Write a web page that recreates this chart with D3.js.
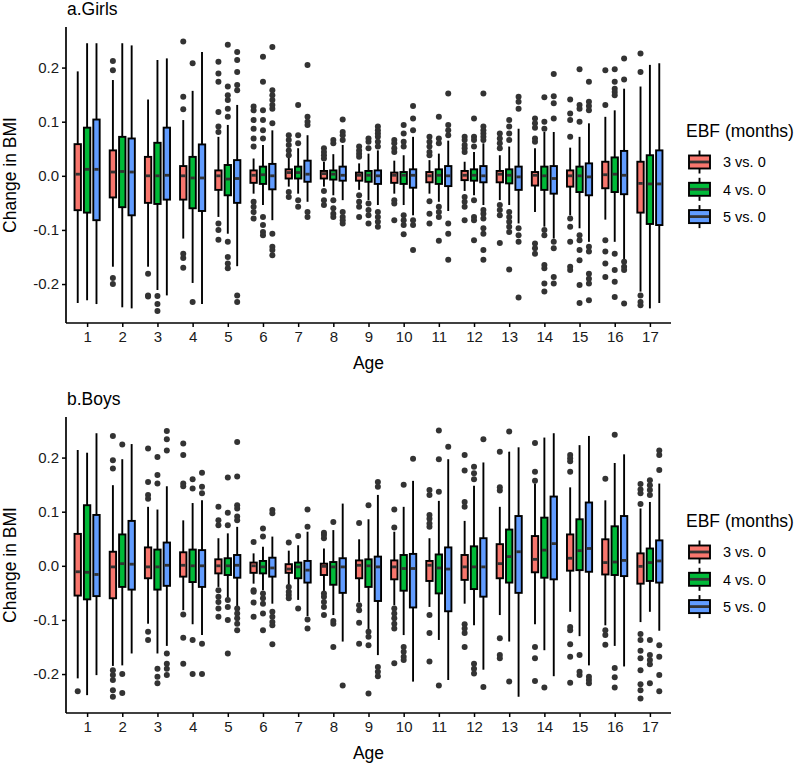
<!DOCTYPE html>
<html>
<head>
<meta charset="utf-8">
<script src="https://cdn.jsdelivr.net/npm/d3@7"></script>
<style>
  body { margin: 0; background: #fff; }
  svg { display: block; font-family: "Liberation Sans", Arial, sans-serif; }
</style>
</head>
<body>
<svg id="chart" width="800" height="764"></svg>
<script>
// ---------- data ----------
const ages = [1,2,3,4,5,6,7,8,9,10,11,12,13,14,15,16,17];
const groups = ["3 vs. 0", "4 vs. 0", "5 vs. 0"];
const groupColors = ["#F8766D", "#00BA38", "#619CFF"];
const yTicks = [-0.2, -0.1, 0.0, 0.1, 0.2];
const yTickLabels = ["-0.2", "-0.1", "0.0", "0.1", "0.2"];
const panelTitles = ["a.Girls", "b.Boys"];

// box stats per age: [lower whisker, q1, median, q3, upper whisker]
const girls3 = [
  [-0.235,-0.0635,0.003,0.0585,0.193],[-0.168,-0.040,0.007,0.047,0.177],[-0.168,-0.050,0.0,0.035,0.141],
  [-0.116,-0.044,0.0,0.018,0.103],[-0.076,-0.026,0.0,0.010,0.072],[-0.033,-0.013,0.001,0.010,0.032],
  [-0.020,-0.005,0.006,0.012,0.034],[-0.020,-0.005,0.004,0.009,0.026],[-0.026,-0.009,0.001,0.006,0.023],
  [-0.033,-0.013,0.001,0.006,0.028],[-0.033,-0.012,0.0,0.007,0.029],[-0.028,-0.008,0.001,0.009,0.026],
  [-0.045,-0.012,0.003,0.009,0.038],[-0.067,-0.018,0.001,0.007,0.051],[-0.073,-0.020,0.0,0.010,0.052],
  [-0.081,-0.023,0.002,0.026,0.109],[-0.214,-0.068,-0.014,0.026,0.165]
];
const girls4 = [
  [-0.230,-0.068,0.012,0.089,0.245],[-0.243,-0.058,0.008,0.072,0.245],[-0.211,-0.052,0.0,0.061,0.214],
  [-0.198,-0.060,-0.004,0.035,0.157],[-0.107,-0.036,-0.006,0.020,0.094],[-0.054,-0.015,0.002,0.017,0.057],
  [-0.033,-0.005,0.006,0.017,0.051],[-0.036,-0.007,0.003,0.010,0.040],[-0.045,-0.011,0.001,0.009,0.041],
  [-0.054,-0.015,0.001,0.007,0.038],[-0.048,-0.015,0.001,0.012,0.041],[-0.036,-0.009,0.001,0.012,0.044],
  [-0.054,-0.014,0.001,0.012,0.054],[-0.094,-0.026,0.0,0.017,0.081],[-0.097,-0.030,0.0,0.017,0.072],
  [-0.122,-0.030,0.003,0.034,0.121],[-0.245,-0.089,-0.015,0.038,0.205]
];
const girls5 = [
  [-0.237,-0.082,0.012,0.104,0.245],[-0.245,-0.073,0.007,0.069,0.241],[-0.221,-0.044,0.001,0.089,0.217],
  [-0.237,-0.065,-0.004,0.058,0.229],[-0.167,-0.050,-0.005,0.029,0.131],[-0.082,-0.025,0.0,0.022,0.084],
  [-0.048,-0.011,0.003,0.028,0.075],[-0.045,-0.009,0.001,0.017,0.057],[-0.054,-0.015,0.0,0.010,0.047],
  [-0.073,-0.022,0.001,0.012,0.072],[-0.065,-0.019,0.0,0.018,0.065],[-0.054,-0.012,0.0,0.018,0.060],
  [-0.088,-0.026,-0.002,0.017,0.087],[-0.116,-0.033,-0.005,0.018,0.081],[-0.122,-0.036,-0.002,0.023,0.097],
  [-0.156,-0.034,0.001,0.046,0.161],[-0.235,-0.091,-0.015,0.047,0.208]
];
const girls3Out = [
  [],[0.212,0.195,-0.189,-0.200],[-0.181,-0.221,-0.223],[0.248,0.146,0.123,-0.144,-0.152,-0.170],
  [0.211,0.189,0.174,0.118,0.091,0.081,-0.088,-0.100,-0.118],
  [0.128,0.121,0.103,0.087,0.069,0.054,-0.048,-0.057,-0.067,-0.079],
  [0.075,0.066,0.057,0.047,0.038,-0.030,-0.039],[0.051,0.044,0.038,0.032,-0.028,-0.045,-0.054],
  [0.054,0.047,0.041,0.035,-0.036,-0.048,-0.057,-0.076],[0.066,0.060,0.051,0.044,-0.045,-0.051,-0.082],
  [0.072,0.063,0.054,0.044,0.038,-0.047,-0.070,-0.088],[0.072,0.066,0.057,0.051,0.044,-0.039,-0.048,-0.057,-0.082],
  [0.078,0.069,0.060,0.051,-0.054,-0.063,-0.073,-0.124],[0.106,0.097,0.089,0.069,0.063,-0.125,-0.134,-0.144],
  [0.141,0.115,0.103,0.072,-0.079,-0.094,-0.122,-0.168,-0.174],[0.195,0.131,-0.119,-0.140,-0.162,-0.187],
  [0.226,0.192,-0.221,-0.233,-0.239]
];
const girls4Out = [
  [],[],[-0.222,-0.237,-0.250],[0.208,-0.233],
  [0.242,0.165,0.149,0.140,0.124,0.109,-0.122,-0.150,-0.162,-0.171],
  [0.220,0.174,0.121,0.103,0.084,0.069,-0.076,-0.091,-0.104,-0.110],
  [0.131,0.075,0.060,-0.045,-0.057],[0.066,0.060,-0.045,-0.060,-0.070,-0.076],
  [0.069,0.063,0.051,-0.051,-0.063,-0.073,-0.088],[0.094,0.078,0.063,0.054,-0.073,-0.082,-0.091,-0.108],
  [0.109,0.069,0.060,-0.057,-0.067,-0.076,-0.120],[0.106,0.072,0.066,0.054,-0.045,-0.076,-0.082,-0.119],
  [0.103,0.091,0.078,0.066,-0.067,-0.076,-0.085,-0.094,-0.104,-0.173],
  [0.145,0.100,0.087,-0.100,-0.110,-0.165,-0.171,-0.199,-0.214],
  [0.197,0.131,0.124,0.100,-0.110,-0.119,-0.137,-0.156,-0.202,-0.235],
  [0.197,0.174,0.161,0.155,0.149,-0.144,-0.174,-0.196,-0.224],[]
];
const girls5Out = [
  [],[],[],[],[0.229,0.214,0.192,0.168,0.158,-0.221,-0.233],
  [0.238,0.158,0.149,0.140,0.131,0.124,0.097,-0.107,-0.131,-0.137,-0.147],
  [0.205,0.109,0.100,0.094,-0.067,-0.076],[0.104,0.081,0.075,0.066,-0.067,-0.076,-0.082,-0.088],
  [0.091,0.084,0.078,0.072,0.063,0.054,-0.067,-0.076,-0.085,-0.094],[0.129,0.106,0.084,-0.082,-0.091,-0.137],
  [0.152,0.094,0.084,0.075,-0.088,-0.107,-0.155],
  [0.152,0.091,0.084,0.078,0.072,0.066,-0.063,-0.070,-0.079,-0.097,-0.107,-0.137,-0.155],
  [0.146,0.137,0.124,-0.097,-0.110,-0.122,-0.225],[0.188,0.147,0.134,0.106,-0.122,-0.134,-0.187,-0.199],
  [0.174,0.137,0.129,0.121,-0.131,-0.140,-0.181,-0.190,-0.199,-0.230],[0.217,0.178,-0.159,-0.168,-0.174,-0.236],[]
];

const boys3 = [
  [-0.208,-0.055,-0.011,0.059,0.214],[-0.185,-0.060,-0.002,0.026,0.149],[-0.107,-0.023,-0.002,0.034,0.109],
  [-0.082,-0.020,0.001,0.025,0.084],[-0.039,-0.014,0.0,0.012,0.051],[-0.033,-0.013,0.0,0.006,0.023],
  [-0.036,-0.013,-0.006,0.003,0.028],[-0.048,-0.017,-0.001,0.004,0.032],[-0.067,-0.023,0.001,0.010,0.049],
  [-0.073,-0.025,-0.002,0.010,0.063],[-0.076,-0.028,0.001,0.009,0.051],[-0.070,-0.026,-0.002,0.020,0.083],
  [-0.091,-0.023,0.004,0.040,0.109],[-0.108,-0.012,0.012,0.055,0.152],[-0.085,-0.009,0.014,0.058,0.145],
  [-0.110,-0.016,0.006,0.049,0.121],[-0.104,-0.033,-0.001,0.023,0.106]
];
const boys4 = [
  [-0.239,-0.062,-0.012,0.112,0.209],[-0.184,-0.039,0.004,0.058,0.197],[-0.162,-0.044,-0.002,0.030,0.104],
  [-0.108,-0.030,0.0,0.030,0.116],[-0.060,-0.017,0.0,0.014,0.060],[-0.045,-0.014,-0.002,0.009,0.035],
  [-0.063,-0.023,-0.002,0.006,0.038],[-0.091,-0.035,-0.002,0.007,0.066],[-0.119,-0.039,0.0,0.012,0.086],
  [-0.128,-0.046,-0.005,0.020,0.109],[-0.137,-0.051,-0.004,0.021,0.120],[-0.110,-0.043,-0.002,0.036,0.148],
  [-0.140,-0.031,0.017,0.067,0.211],[-0.156,-0.022,0.029,0.089,0.237],[-0.130,-0.008,0.028,0.086,0.223],
  [-0.148,-0.017,0.007,0.073,0.190],[-0.085,-0.028,0.006,0.032,0.118]
];
const boys5 = [
  [-0.202,-0.056,-0.016,0.094,0.245],[-0.162,-0.044,0.003,0.083,0.225],[-0.148,-0.037,0.001,0.043,0.147],
  [-0.128,-0.039,0.0,0.029,0.121],[-0.076,-0.022,0.001,0.020,0.072],[-0.070,-0.020,-0.004,0.015,0.054],
  [-0.093,-0.031,-0.008,0.009,0.063],[-0.140,-0.050,-0.002,0.014,0.115],[-0.165,-0.065,-0.002,0.017,0.131],
  [-0.214,-0.077,-0.005,0.022,0.157],[-0.211,-0.084,-0.006,0.034,0.197],[-0.192,-0.057,-0.002,0.051,0.191],
  [-0.242,-0.050,0.026,0.092,0.219],[-0.204,-0.025,0.041,0.128,0.245],[-0.184,-0.011,0.032,0.117,0.240],
  [-0.186,-0.019,0.010,0.092,0.206],[-0.120,-0.031,0.009,0.047,0.152]
];
const boys3Out = [
  [-0.232],[0.240,0.195,0.180,-0.193,-0.202,-0.211,-0.230,-0.242],[0.217,0.155,0.131,0.124,-0.122,-0.137],
  [0.226,0.205,0.152,0.147,-0.090,-0.133,-0.181],[0.109,0.084,0.075,-0.045,-0.057,-0.067,-0.079,-0.094],
  [0.044,-0.045,-0.048,-0.068,-0.094],[0.043,-0.039,-0.048,-0.054,-0.060],
  [0.061,0.057,0.051,-0.051,-0.057,-0.067,-0.076,-0.091],[0.079,-0.073,-0.082,-0.105,-0.144],
  [0.104,0.071,-0.079,-0.088,-0.097,-0.107,-0.116,-0.180],[0.140,0.131,0.094,0.087,0.078,0.072,-0.091,-0.124,-0.177],
  [0.205,0.176,0.118,0.109,-0.108,-0.116,-0.124,-0.150],[0.211,0.145,0.139,-0.134,-0.165,-0.171],
  [0.227,0.174,0.157,-0.150,-0.171,-0.213],[0.205,0.199,0.193,0.174,-0.113,-0.119,-0.145,-0.168,-0.216],
  [0.161,-0.119,-0.128,-0.146],
  [0.151,0.141,0.134,0.114,-0.126,-0.137,-0.157,-0.171,-0.193,-0.219,-0.230,-0.245]
];
const boys4Out = [
  [],[0.224,-0.200,-0.235],[0.201,0.168,0.152,-0.190,-0.205,-0.217],[0.160,0.143,-0.137,-0.200],
  [0.163,0.098,0.075,-0.063,-0.076,-0.100,-0.162],[0.069,0.054,-0.051,-0.060,-0.070,-0.088,-0.119],
  [0.055,-0.079],[0.081,-0.102,-0.107,-0.150],[0.112,-0.122,-0.131,-0.147,-0.236],
  [0.150,-0.150,-0.159,-0.168,-0.174],[0.250,0.197,0.137,-0.221],[0.183,0.171,0.160,-0.181,-0.190,-0.199],
  [0.248,-0.214],[-0.225],[-0.165,-0.196,-0.202],[0.242,-0.189,-0.206,-0.225],
  [0.158,0.149,0.140,0.131,-0.137,-0.165,-0.174,-0.182,-0.217]
];
const boys5Out = [
  [],[],[0.249,0.234,0.213,-0.162,-0.181,-0.190,-0.202],[0.172,0.146,0.134,-0.144,-0.200],
  [0.229,0.165,0.112,0.106,0.091,0.084,-0.079,-0.088,-0.097,-0.107,-0.119],
  [0.103,0.097,-0.085,-0.094,-0.104,-0.110,-0.145],[0.104,0.072,-0.099,-0.116],[-0.221],
  [0.155,0.146,-0.187,-0.196,-0.204],[0.198],[0.220],[0.234,-0.224],[],[],[-0.205,-0.211,-0.217],[],
  [0.213,0.205,0.177,-0.147,-0.168,-0.202,-0.232]
];

// ---------- drawing ----------
const svg = d3.select("#chart");
const plotLeft = 66, plotRight = 671;
const panels = [
  { title: panelTitles[0], top: 27, bottom: 323, stats: [girls3, girls4, girls5], outs: [girls3Out, girls4Out, girls5Out] },
  { title: panelTitles[1], top: 417, bottom: 713, stats: [boys3, boys4, boys5], outs: [boys3Out, boys4Out, boys5Out] }
];

const x = d3.scalePoint().domain(ages).range([plotLeft, plotRight]).padding(0.6);
const step = x.step();
const xg = d3.scaleBand().domain(groups).range([-0.4 * step, 0.4 * step]);
const boxW = xg.bandwidth() * 0.68;
const color = d3.scaleOrdinal().domain(groups).range(groupColors);
const lw = 1.9;

panels.forEach((p) => {
  const y = d3.scaleLinear().domain([-0.272, 0.275]).range([p.bottom, p.top]);
  const g = svg.append("g");

  groups.forEach((grp, gi) => {
    const stats = p.stats[gi];
    const outs = p.outs[gi];
    ages.forEach((age, ai) => {
      const s = stats[ai];
      const cx = x(age) + xg(grp) + xg.bandwidth() / 2;
      const bg = g.append("g");
      bg.append("line").attr("x1", cx).attr("x2", cx).attr("y1", y(s[4])).attr("y2", y(s[3]))
        .attr("stroke", "#000").attr("stroke-width", lw);
      bg.append("line").attr("x1", cx).attr("x2", cx).attr("y1", y(s[1])).attr("y2", y(s[0]))
        .attr("stroke", "#000").attr("stroke-width", lw);
      bg.append("rect").attr("x", cx - boxW / 2).attr("width", boxW)
        .attr("y", y(s[3])).attr("height", Math.max(0.5, y(s[1]) - y(s[3])))
        .attr("fill", color(grp)).attr("stroke", "#000").attr("stroke-width", lw);
      bg.append("line").attr("x1", cx - boxW / 2 + 1).attr("x2", cx + boxW / 2 - 1)
        .attr("y1", y(s[2])).attr("y2", y(s[2]))
        .attr("stroke", "#333333").attr("stroke-width", 2.8);
      bg.selectAll("circle").data(outs[ai]).enter().append("circle")
        .attr("cx", cx).attr("cy", d => y(d)).attr("r", 3).attr("fill", "#333333");
    });
  });

  const yAxis = d3.axisLeft(y).tickValues(yTicks).tickSize(4).tickPadding(3)
    .tickFormat((d, i) => yTickLabels[i]);
  const ya = svg.append("g").attr("transform", `translate(${plotLeft},0)`).call(yAxis);
  ya.select(".domain").attr("d", `M0,${p.top}V${p.bottom}`).attr("stroke", "#000").attr("stroke-width", 1.7);
  ya.selectAll(".tick line").attr("stroke", "#000").attr("stroke-width", 1.5);
  ya.selectAll(".tick text").attr("font-size", "15px").attr("fill", "#1a1a1a")
    .attr("font-family", "Liberation Sans, Arial, sans-serif");

  const xAxis = d3.axisBottom(x).tickSize(4).tickPadding(4);
  const xa = svg.append("g").attr("transform", `translate(0,${p.bottom})`).call(xAxis);
  xa.select(".domain").attr("d", `M${plotLeft},0H${plotRight}`).attr("stroke", "#000").attr("stroke-width", 1.7);
  xa.selectAll(".tick line").attr("stroke", "#000").attr("stroke-width", 1.5);
  xa.selectAll(".tick text").attr("font-size", "15px").attr("fill", "#1a1a1a")
    .attr("font-family", "Liberation Sans, Arial, sans-serif");

  svg.append("text").attr("x", 67).attr("y", p.top - 12).attr("font-size", "17.5px")
    .attr("fill", "#000").text(p.title);
  svg.append("text").attr("x", (plotLeft + plotRight) / 2).attr("y", p.bottom + 45.5)
    .attr("text-anchor", "middle").attr("font-size", "17.5px").attr("fill", "#000").text("Age");
  svg.append("text")
    .attr("transform", `translate(16,${(p.top + p.bottom) / 2}) rotate(-90)`)
    .attr("text-anchor", "middle").attr("font-size", "17.5px").attr("fill", "#000").text("Change in BMI");

  const ly = p.top + 110;
  const lg = svg.append("g");
  lg.append("text").attr("x", 686).attr("y", ly).attr("font-size", "17.5px").attr("fill", "#000")
    .text("EBF (months)");
  groups.forEach((grp, gi) => {
    const cy = ly + 25 + gi * 27.3;
    const kx = 699.5;
    lg.append("line").attr("x1", kx).attr("x2", kx).attr("y1", cy - 11.5).attr("y2", cy - 7)
      .attr("stroke", "#000").attr("stroke-width", lw);
    lg.append("line").attr("x1", kx).attr("x2", kx).attr("y1", cy + 7).attr("y2", cy + 11.5)
      .attr("stroke", "#000").attr("stroke-width", lw);
    lg.append("rect").attr("x", 689).attr("y", cy - 6.5).attr("width", 21).attr("height", 13)
      .attr("fill", color(grp)).attr("stroke", "#000").attr("stroke-width", lw);
    lg.append("line").attr("x1", 690).attr("x2", 709).attr("y1", cy).attr("y2", cy)
      .attr("stroke", "#333333").attr("stroke-width", 2.8);
    lg.append("text").attr("x", 723).attr("y", cy).attr("dy", "0.36em").attr("font-size", "14.5px")
      .attr("fill", "#000").text(grp);
  });
});
</script>
</body>
</html>
